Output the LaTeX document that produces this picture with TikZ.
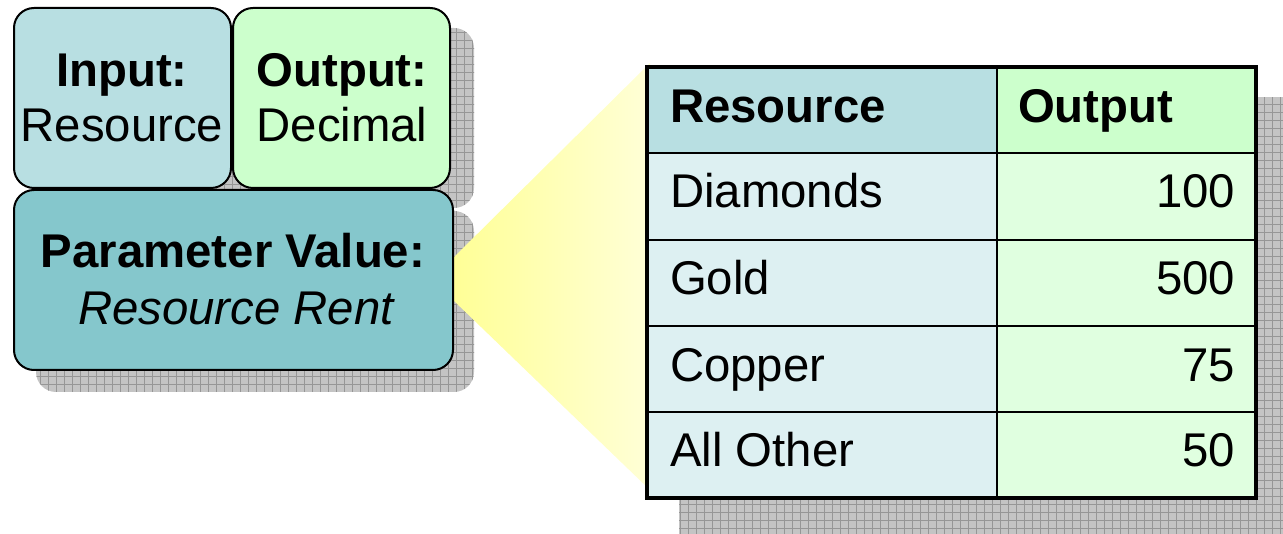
\documentclass[tikz,border=0pt]{standalone}
\usepackage{fontspec}
\setmainfont{Liberation Sans}
\begin{document}
\begin{tikzpicture}[x=0.75pt,y=-0.75pt,
  every node/.style={inner sep=0pt,outer sep=0pt},
  txt/.style={font=\fontsize{35.5}{42}\selectfont,anchor=base},
  boxstyle/.style={draw=black,line width=1.5pt,rounded corners=15pt},
  shadowfill/.style={fill=shadowgray},
  gridln/.style={draw=gridgray,line width=0.6pt}]
\definecolor{inputfill}{RGB}{184,223,226}
\definecolor{outfill}{RGB}{204,255,204}
\definecolor{paramfill}{RGB}{133,199,204}
\definecolor{cellL}{RGB}{221,240,242}
\definecolor{cellR}{RGB}{224,255,224}
\definecolor{shadowgray}{RGB}{196,196,196}
\definecolor{gridgray}{RGB}{150,150,150}
\definecolor{yelL}{RGB}{255,255,150}
\definecolor{yelR}{RGB}{255,255,215}
\useasboundingbox (0,0) rectangle (1283,534);
% shadows
\begin{scope}
\clip[rounded corners=15pt] (36,28) rectangle (474,208);
\fill[shadowfill] (30,20) rectangle (480,215);
\draw[gridln,step=6pt] (30,20) grid (480,215);
\end{scope}
\begin{scope}
\clip[rounded corners=15pt] (36,211) rectangle (474,392);
\fill[shadowfill] (30,205) rectangle (480,400);
\draw[gridln,step=6pt] (30,205) grid (480,400);
\end{scope}
\begin{scope}
\clip (679,98) rectangle (1283,534);
\fill[shadowfill] (670,90) rectangle (1290,540);
\draw[gridln,step=6pt] (670,90) grid (1290,540);
\end{scope}
% funnel
\shade[left color=yelL,right color=yelR]
  (453,258) -- (650,63) -- (650,490) -- (453,300) -- cycle;
% left boxes
\draw[boxstyle,fill=inputfill] (14,8) rectangle (231,188);
\draw[boxstyle,fill=outfill] (233,8) rectangle (450,188);
\draw[boxstyle,fill=paramfill] (14,190) rectangle (453,370);
\node[txt] (inT) at (122,87) {\bfseries Input:};
\node[txt] (inV) at (122,142) {Resource};
\node[txt] (outT) at (342,87) {\bfseries Output:};
\node[txt] (outV) at (342,142) {Decimal};
\node[txt] (parT) at (233,268) {\bfseries Parameter Value:};
\node[txt] (parV) at (236,325) {\itshape Resource Rent};
% table
\fill[inputfill] (647,67) rectangle (997,153);
\fill[outfill] (997,67) rectangle (1256,153);
\fill[cellL] (647,153) rectangle (997,498);
\fill[cellR] (997,153) rectangle (1256,498);
\foreach \yy in {153,240,326,412} \draw[line width=1.5pt] (647,\yy) -- (1256,\yy);
\draw[line width=1.5pt] (997,67) -- (997,498);
\draw[line width=3pt] (647,67) rectangle (1256,498);
\node[txt,anchor=base west] (hR) at (670,123) {\bfseries Resource};
\node[txt,anchor=base west] (hO) at (1018,123) {\bfseries Output};
\node[txt,anchor=base west] (r1) at (670,208) {Diamonds};
\node[txt,anchor=base west] (r2) at (670,295) {Gold};
\node[txt,anchor=base west] (r3) at (670,382) {Copper};
\node[txt,anchor=base west] (r4) at (670,467) {All Other};
\node[txt,anchor=base east] (v1) at (1235,208) {100};
\node[txt,anchor=base east] (v2) at (1235,295) {500};
\node[txt,anchor=base east] (v3) at (1235,382) {75};
\node[txt,anchor=base east] (v4) at (1235,467) {50};
\end{tikzpicture}
\end{document}
